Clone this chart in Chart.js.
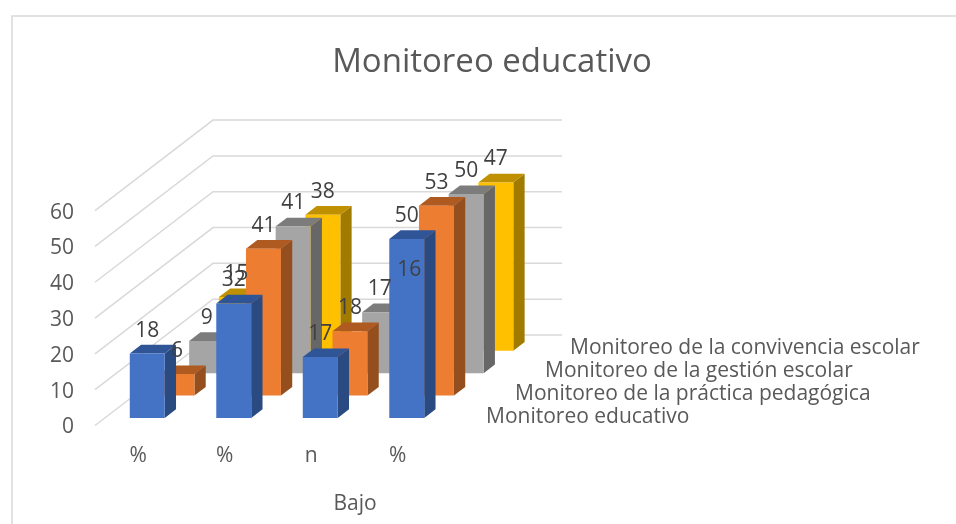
<!DOCTYPE html>
<html>
<head>
<meta charset="utf-8">
<style>
  html, body { margin: 0; background: #fff; }
  canvas { display: block; }
</style>
<script src="https://cdn.jsdelivr.net/npm/chart.js@4/dist/chart.umd.min.js"></script>
</head>
<body>
<canvas id="chart" width="956" height="524"></canvas>
<script>
const categories = ['%', '%', 'n', '%'];
const seriesNames = [
  'Monitoreo educativo',
  'Monitoreo de la práctica pedagógica',
  'Monitoreo de la gestión escolar',
  'Monitoreo de la convivencia escolar'
];
const educativo = [18, 32, 17, 50];
const practica = [6, 41, 18, 53];
const gestion = [9, 41, 17, 50];
const convivencia = [15, 38, 16, 47];
const chartTitle = 'Monitoreo educativo';
const axisTitle = 'Bajo';

const frontColors = ['#4472c4', '#ed7d31', '#a5a5a5', '#ffc000'];
const topColors = ['#2f5597', '#ae5a21', '#7c7c7c', '#bf9000'];
const sideColors = ['#2a4a82', '#954e1e', '#676767', '#a07b00'];

const FONT = '"Open Sans", sans-serif';
const TEXT = '#595959';
const GRID = '#d9d9d9';

// fake perspective: every series sits one depth step further back
const STEP_X = 29.7, STEP_Y = 22.4;
const FIRST_X = 9, FIRST_Y = 7.5;
const BOX_X = 11.3, BOX_Y = 8.7;
const WALL_X = 118, WALL_Y = 90.5, WALL_END = 562;
const depthLabelX = [486, 515, 545, 570];
const depthLabelY = [417, 394, 371, 348];

function poly(ctx, color, pts) {
  ctx.fillStyle = color;
  ctx.beginPath();
  pts.forEach((p, i) => i ? ctx.lineTo(p[0], p[1]) : ctx.moveTo(p[0], p[1]));
  ctx.closePath();
  ctx.fill();
}

function drawWalls(chart) {
  const { ctx, chartArea, scales } = chart;
  ctx.save();
  ctx.strokeStyle = GRID;
  ctx.lineWidth = 1.5;
  scales.y.ticks.forEach((t, i) => {
    const y = scales.y.getPixelForTick(i);
    ctx.beginPath();
    ctx.moveTo(chartArea.left, y);
    ctx.lineTo(chartArea.left + WALL_X, y - WALL_Y);
    ctx.lineTo(WALL_END, y - WALL_Y);
    ctx.stroke();
  });
  ctx.restore();
}

function drawBox(ctx, el, s) {
  const dx = FIRST_X + STEP_X * s, dy = FIRST_Y + STEP_Y * s;
  const l = el.x - el.width / 2 + dx, r = el.x + el.width / 2 + dx;
  const t = el.y - dy, b = el.base - dy;
  poly(ctx, sideColors[s], [[r, t], [r + BOX_X, t - BOX_Y], [r + BOX_X, b - BOX_Y], [r, b]]);
  poly(ctx, topColors[s], [[l, t], [l + BOX_X, t - BOX_Y], [r + BOX_X, t - BOX_Y], [r, t]]);
  poly(ctx, frontColors[s], [[l, t], [r, t], [r, b], [l, b]]);
}

const box3d = {
  id: 'box3d',
  beforeDatasetsDraw(chart) {
    drawWalls(chart);
    const ctx = chart.ctx;
    for (let s = chart.data.datasets.length - 1; s >= 0; s--) {
      chart.getDatasetMeta(s).data.forEach(el => drawBox(ctx, el, s));
    }
    return false;
  },
  afterDraw(chart) {
    const { ctx } = chart;
    ctx.save();
    ctx.strokeStyle = GRID;
    ctx.lineWidth = 1.5;
    ctx.beginPath();
    ctx.moveTo(12, 524);
    ctx.lineTo(12, 16);
    ctx.lineTo(956, 16);
    ctx.stroke();

    ctx.font = '21px ' + FONT;
    ctx.textBaseline = 'middle';

    // value labels sit above the front edge of each box
    ctx.textAlign = 'center';
    ctx.fillStyle = '#404040';
    chart.data.datasets.forEach((ds, s) => {
      chart.getDatasetMeta(s).data.forEach((el, i) => {
        const dx = FIRST_X + STEP_X * s, dy = FIRST_Y + STEP_Y * s;
        ctx.fillText(ds.data[i], el.x + dx, el.y - dy - 23);
      });
    });

    ctx.fillStyle = TEXT;
    ctx.fillText(axisTitle, 355, 504);

    ctx.textAlign = 'left';
    seriesNames.forEach((name, s) => {
      ctx.fillText(name, depthLabelX[s], depthLabelY[s]);
    });
    ctx.restore();
  }
};

new Chart(document.getElementById('chart'), {
  type: 'bar',
  data: {
    labels: categories,
    datasets: [educativo, practica, gestion, convivencia].map((data, s) => ({
      label: seriesNames[s],
      data,
      backgroundColor: frontColors[s]
    }))
  },
  options: {
    responsive: false,
    animation: false,
    layout: { padding: { left: 28 } },
    datasets: { bar: { grouped: false, categoryPercentage: 1, barPercentage: 0.404 } },
    plugins: {
      legend: { display: false },
      tooltip: { enabled: false },
      title: {
        display: true,
        text: chartTitle,
        color: TEXT,
        font: { family: FONT, size: 33, weight: 'normal' },
        padding: { top: 43, bottom: 128 }
      }
    },
    scales: {
      x: {
        grid: { display: false },
        border: { display: false },
        ticks: { color: TEXT, font: { family: FONT, size: 21 }, padding: 10, maxRotation: 0 },
        afterFit: s => { s.height = 98.5; }
      },
      y: {
        min: 0,
        max: 60,
        grid: { display: false, drawTicks: false },
        border: { display: false },
        ticks: { stepSize: 10, color: TEXT, font: { family: FONT, size: 21 }, padding: 21, labelOffset: 2 },
        afterFit: s => { s.width = 67; }
      },
      y2: {
        position: 'right',
        grid: { display: false },
        border: { display: false },
        ticks: { display: false },
        afterFit: s => { s.width = 515; }
      }
    }
  },
  plugins: [box3d]
});
</script>
</body>
</html>
